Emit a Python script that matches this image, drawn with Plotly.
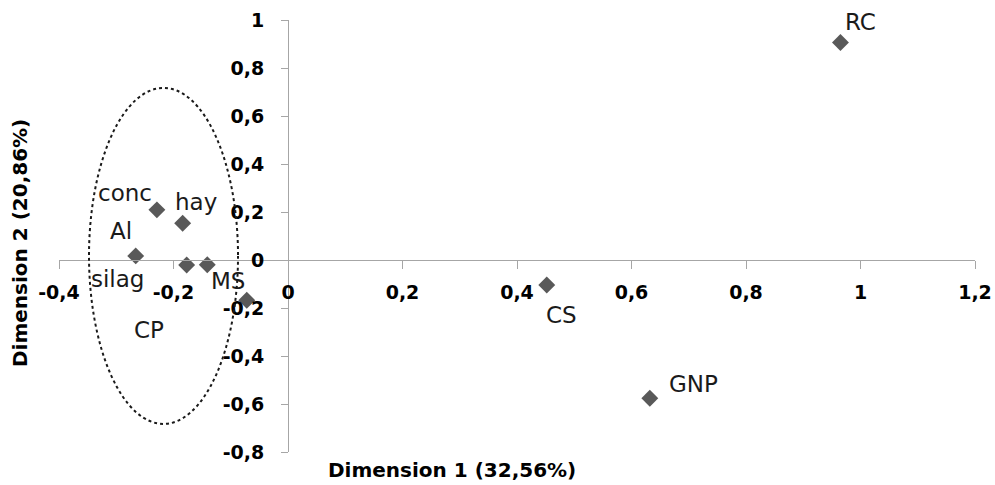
import plotly.graph_objects as go

# ---- data ----
labels = ["RC", "GNP", "CS", "conc", "hay", "Al", "silag", "MS", "CP"]
dim1 = [0.965, 0.632, 0.452, -0.229, -0.184, -0.266, -0.177, -0.141, -0.072]
dim2 = [0.906, -0.576, -0.104, 0.209, 0.153, 0.017, -0.021, -0.020, -0.168]

x_ticks = [-0.4, -0.2, 0, 0.2, 0.4, 0.6, 0.8, 1, 1.2]
x_ticktext = ["-0,4", "-0,2", "0", "0,2", "0,4", "0,6", "0,8", "1", "1,2"]
y_ticks = [-0.8, -0.6, -0.4, -0.2, 0, 0.2, 0.4, 0.6, 0.8, 1]
y_ticktext = ["-0,8", "-0,6", "-0,4", "-0,2", "0", "0,2", "0,4", "0,6", "0,8", "1"]

# ellipse bounding box (data units)
ell_x = [-0.3476, -0.0873]
ell_y = [-0.683, 0.717]

# label pixel offsets (style)
label_shift = {
    "RC": (20, 21), "GNP": (44, 14), "CS": (15, -30), "conc": (-32, 17),
    "hay": (13, 21), "Al": (-15, 25), "silag": (-69, -14), "MS": (21, -16),
    "CP": (-98, -30),
}

XR = [-0.4, 1.2]
YR = [-0.8, 1.0]

ML, MR, MT, MB = 59, 20, 20, 33
PW, PH = 995 - ML - MR, 485 - MT - MB

fig = go.Figure()
fig.add_trace(go.Scatter(
    x=dim1, y=dim2, mode="markers",
    marker=dict(symbol="diamond", size=13, color="#595959"),
    showlegend=False, hoverinfo="text", text=labels,
))

for lab, xv, yv in zip(labels, dim1, dim2):
    dx, dy = label_shift[lab]
    fig.add_annotation(x=xv, y=yv, xref="x", yref="y", text=lab, showarrow=False,
                       xshift=dx, yshift=dy,
                       font=dict(family="DejaVu Sans", size=23, color="#1a1a1a"))

fig.add_shape(type="circle", xref="x", yref="y",
              x0=ell_x[0], x1=ell_x[1], y0=ell_y[0], y1=ell_y[1],
              line=dict(color="#1a1a1a", width=2, dash="dot"), layer="above")

axis_col = "#a6a6a6"
tickfont = dict(family="DejaVu Sans", size=19, color="#000000", weight="bold")

fig.update_layout(
    width=995, height=485, autosize=False,
    margin=dict(l=ML, r=MR, t=MT, b=MB, autoexpand=False),
    plot_bgcolor="white", paper_bgcolor="white",
    xaxis=dict(range=XR, tickmode="array", tickvals=x_ticks, ticktext=x_ticktext,
               showgrid=False, zeroline=False, showline=True, linecolor=axis_col,
               linewidth=1, ticks="outside", ticklen=8, tickcolor=axis_col,
               ticklabelstandoff=7, automargin=False, ticklabeloverflow="allow",
               anchor="free", position=(0 - YR[0]) / (YR[1] - YR[0]),
               tickfont=tickfont),
    yaxis=dict(range=YR, tickmode="array", tickvals=y_ticks, ticktext=y_ticktext,
               showgrid=False, zeroline=False, showline=True, linecolor=axis_col,
               linewidth=1, ticks="outside", ticklen=7, tickcolor=axis_col,
               ticklabelstandoff=13, automargin=False, ticklabeloverflow="allow",
               anchor="free", position=(0 - XR[0]) / (XR[1] - XR[0]),
               tickfont=tickfont),
    annotations=list(fig.layout.annotations) + [
        dict(text="Dimension 1 (32,56%)", xref="paper", yref="paper", x=(452 - ML) / PW,
             y=-(470 - (485 - MB)) / PH, showarrow=False, yanchor="middle", xanchor="center",
             font=dict(family="DejaVu Sans", size=20, color="#000000", weight="bold")),
        dict(text="Dimension 2 (20,86%)", xref="paper", yref="paper", x=(20 - ML) / PW,
             y=((485 - MB) - 243) / PH, showarrow=False, textangle=-90,
             xanchor="center", yanchor="middle",
             font=dict(family="DejaVu Sans", size=20, color="#000000", weight="bold")),
    ],
)

fig.write_html("out.html",
               config={"displayModeBar": False, "responsive": False},
               post_script="document.body.style.margin='0';document.body.style.overflow='hidden';")
